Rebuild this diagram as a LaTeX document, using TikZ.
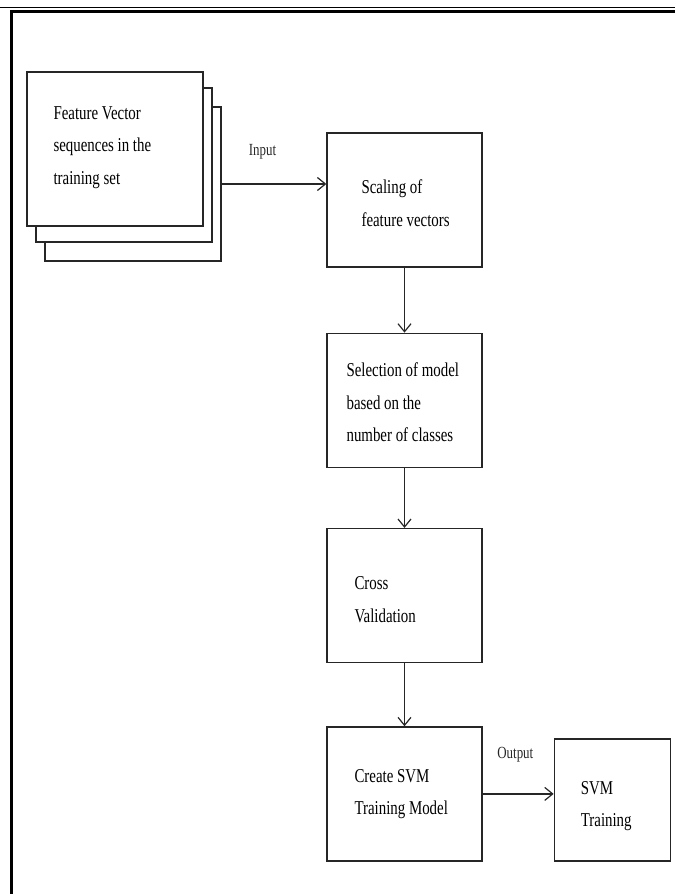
\documentclass[tikz,border=0pt]{standalone}
\usepackage{fontspec}
\setmainfont{Liberation Serif}[FakeStretch=0.76]
\usetikzlibrary{positioning, arrows.meta}
\definecolor{SVline}{HTML}{262626}

\begin{document}
\begin{tikzpicture}[
  x=1pt, y=-1pt,
  font=\fontsize{19.6}{32.5}\selectfont,
  box/.style={draw=SVline, line width=1.3pt, fill=white,
              minimum width=155pt, minimum height=134pt, inner sep=0pt},
  stack/.style={draw=SVline, line width=1.3pt, fill=white,
                minimum width=176pt, minimum height=154pt, inner sep=0pt},
  txt/.style={inner sep=0pt, align=left},
  lbl/.style={inner sep=0pt, font=\fontsize{17}{20}\selectfont},
  arr/.style={-{Straight Barb[length=8pt, width=13pt]}, line width=1.2pt, SVline},
]
\useasboundingbox (0,0) rectangle (675,894);
% page rule and frame
\draw[line width=1pt] (0,7) -- (675,7);
\draw[line width=2.6pt] (11.5,894) -- (11.5,11.5) -- (675,11.5);

% stacked input sheets
\node[stack] (featback) at (133,184) {};
\node[stack] (featmid) at (124,165) {};
\node[stack] (feat) at (115,149) {};
\node[txt, right=27pt of feat.west, yshift=1.5pt] (feattxt)
  {Feature Vector\\sequences in the\\training set};

% main chain
\node[box] (scale) at (404.5,200) {};
\node[box, below=65pt of scale] (sel) {};
\node[box, below=60pt of sel] (cross) {};
\node[box, below=63pt of cross] (create) {};
\node[box, minimum width=116pt, minimum height=122pt,
      right=71pt of create, yshift=-6pt] (svm) {};

\node[txt, right=35pt of scale.west, yshift=-3pt] (scaletxt)
  {Scaling of\\feature vectors};
\node[txt, right=20pt of sel.west, yshift=-2pt] (seltxt)
  {Selection of model\\based on the\\number of classes};
\node[txt, right=28pt of cross.west, yshift=-4pt] (crosstxt)
  {Cross\\Validation};
\node[txt, right=28pt of create.west] (createtxt)
  {Create SVM\\Training Model};
\node[txt, right=27pt of svm.west, yshift=-6pt] (svmtxt)
  {SVM\\Training};

\draw[arr] (featback.east) -- node[lbl, pos=0.39, above=24pt] {Input}
  (featback.east -| scale.west);
\draw[arr] (scale) -- (sel);
\draw[arr] (sel) -- (cross);
\draw[arr] (cross) -- (create);
\draw[arr] (create.east) -- node[lbl, pos=0.46, above=31pt] {Output}
  (create.east -| svm.west);
\end{tikzpicture}
\end{document}
